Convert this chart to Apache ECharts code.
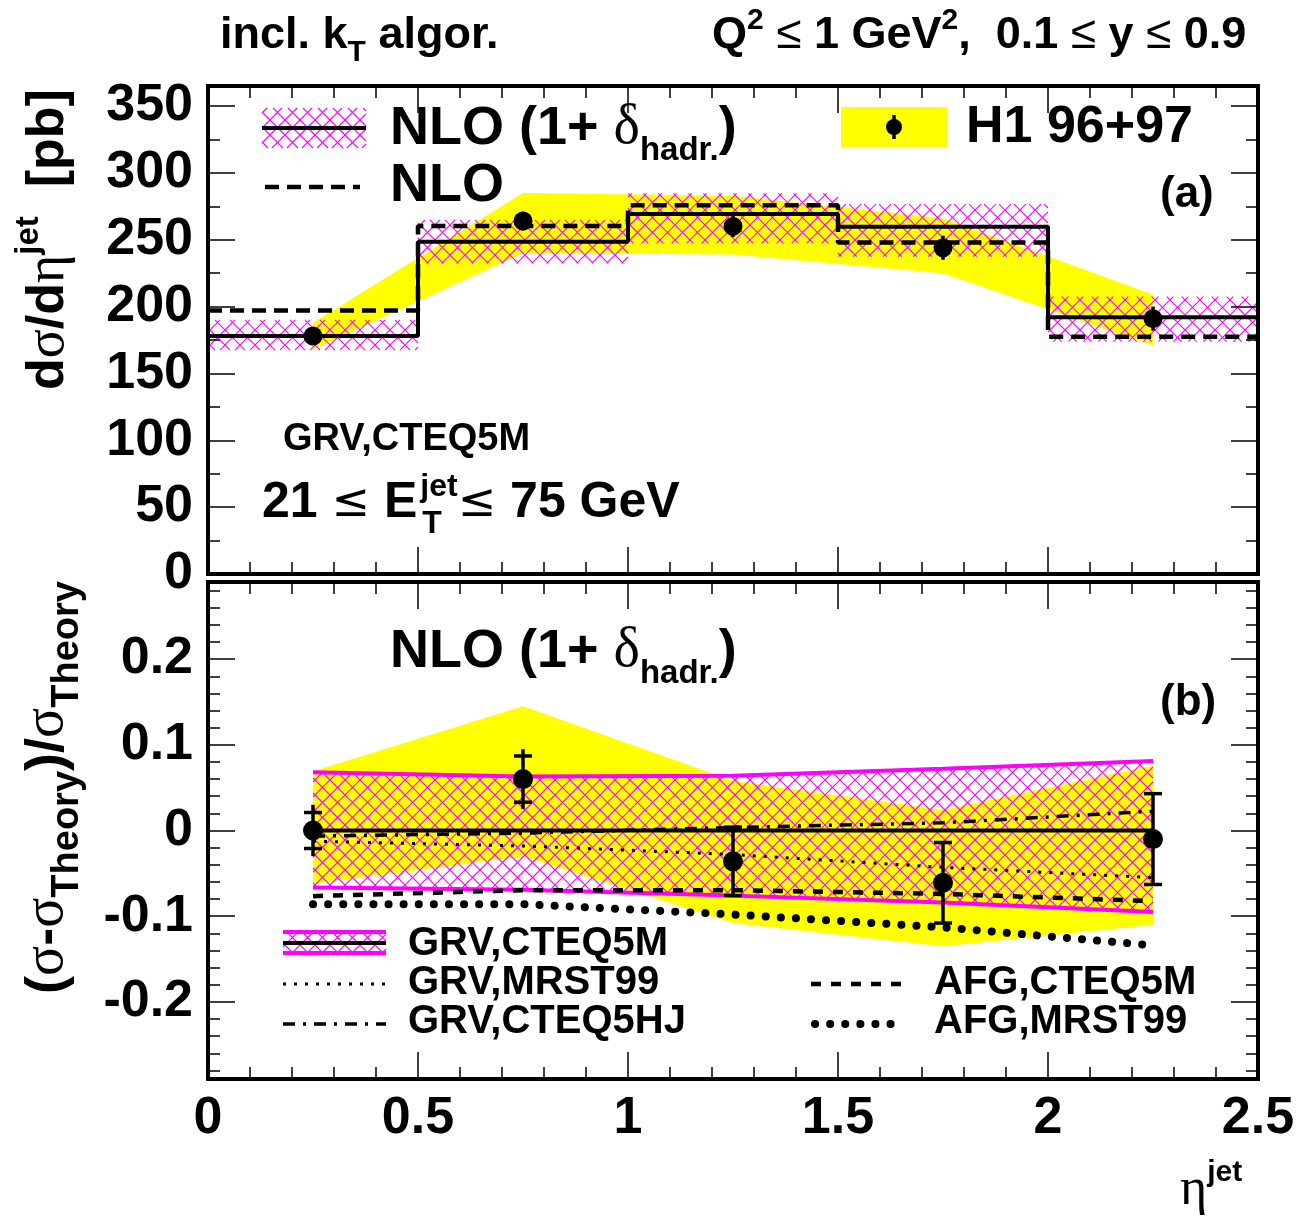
<!DOCTYPE html>
<html><head><meta charset="utf-8">
<script src="https://cdn.jsdelivr.net/npm/echarts@6/dist/echarts.min.js"></script>
<style>html,body{margin:0;padding:0;background:#fff}#c{width:1315px;height:1225px}</style>
</head><body><div id="c"></div>
<script>
// ---------------- data ----------------
const etaCenters = [0.25, 0.75, 1.25, 1.75, 2.25];
const binEdges   = [0, 0.5, 1.0, 1.5, 2.0, 2.5];
// panel (a): d sigma / d eta [pb]
const h1Xsec     = [178, 264, 260, 244, 191];
const h1XsecErr  = [4, 7, 8, 9, 9];
const h1BandHi   = [188, 285, 283, 266, 209];
const h1BandLo   = [168, 240, 239, 225, 171];
const nloHad     = [178, 248.6, 269.3, 259.8, 192];
const nloHadHi   = [190, 264.8, 284.7, 276.7, 207.4];
const nloHadLo   = [167.5, 232.4, 247.3, 237.3, 173.8];
const nloPlain   = [197, 260.3, 275.8, 248, 177.5];
// panel (b): (sigma - sigma_theory)/sigma_theory
const ratioH1    = [0.000, 0.060, -0.036, -0.061, -0.010];
const ratioStat  = [0.021, 0.027, 0.040, 0.047, 0.053];
const ratioTot   = [0.030, 0.035, 0.040, 0.047, 0.053];
const ratioBandHi = [0.069, 0.145, 0.058, 0.024, 0.076];
const ratioBandLo = [-0.062, -0.030, -0.108, -0.135, -0.110];
const hadBandHi  = [0.068, 0.063, 0.064, 0.072, 0.081];
const hadBandLo  = [-0.0665, -0.069, -0.076, -0.084, -0.095];
const grvCteq5m  = [0, 0, 0, 0, 0];
const grvMrst99  = [-0.0125, -0.018, -0.028, -0.043, -0.055];
const grvCteq5hj = [-0.0066, -0.003, 0.0035, 0.009, 0.0225];
const afgCteq5m  = [-0.0766, -0.0696, -0.0696, -0.074, -0.0824];
const afgMrst99  = [-0.086, -0.086, -0.098, -0.113, -0.134];
// ticks
const xMajorTicks = [0, 0.5, 1, 1.5, 2, 2.5];
const xMinorTicks = [0.1,0.2,0.3,0.4,0.6,0.7,0.8,0.9,1.1,1.2,1.3,1.4,1.6,1.7,1.8,1.9,2.1,2.2,2.3,2.4];
const yTopMajorTicks = [0, 50, 100, 150, 200, 250, 300, 350];
const yTopMinorTicks = [25, 75, 125, 175, 225, 275, 325];
const yBotMajorTicks = [-0.2, -0.1, 0, 0.1, 0.2];
const yBotMinorTicks = [-0.28,-0.26,-0.24,-0.22,-0.18,-0.16,-0.14,-0.12,-0.08,-0.06,-0.04,-0.02,
                        0.02,0.04,0.06,0.08,0.12,0.14,0.16,0.18,0.22,0.24,0.26,0.28];

// ---------------- helpers ----------------
const SANS = '"Liberation Sans", Arial, Helvetica, sans-serif';
const SERIF = '"Liberation Serif", "DejaVu Serif", serif';
const DVS = '"DejaVu Sans", sans-serif';
const MAG = '#ff00ff';
const HSP = 15; // hatch period in px
const mctx = document.createElement('canvas').getContext('2d');

// clip segment p0-p1 against convex polygon (Cyrus-Beck)
function clipConvex(p0, p1, poly) {
  const n = poly.length;
  let cx = 0, cy = 0;
  poly.forEach(p => { cx += p[0] / n; cy += p[1] / n; });
  const d = [p1[0] - p0[0], p1[1] - p0[1]];
  let tE = 0, tL = 1;
  for (let i = 0; i < n; i++) {
    const a = poly[i], b = poly[(i + 1) % n];
    const e = [b[0] - a[0], b[1] - a[1]];
    if (Math.abs(e[0]) + Math.abs(e[1]) < 1e-9) continue;
    let nn = [-e[1], e[0]];
    if (nn[0] * (cx - a[0]) + nn[1] * (cy - a[1]) < 0) nn = [-nn[0], -nn[1]];
    const num = nn[0] * (p0[0] - a[0]) + nn[1] * (p0[1] - a[1]);
    const den = nn[0] * d[0] + nn[1] * d[1];
    if (Math.abs(den) < 1e-12) { if (num < 0) return null; continue; }
    const t = -num / den;
    if (den > 0) tE = Math.max(tE, t); else tL = Math.min(tL, t);
    if (tE > tL) return null;
  }
  return [[p0[0] + tE * d[0], p0[1] + tE * d[1]], [p0[0] + tL * d[0], p0[1] + tL * d[1]]];
}
// crossed diagonal hatch lines inside a convex polygon (pixel space)
function hatchEls(poly, z) {
  let minx = Infinity, maxx = -Infinity, miny = Infinity, maxy = -Infinity;
  poly.forEach(p => { minx = Math.min(minx, p[0]); maxx = Math.max(maxx, p[0]); miny = Math.min(miny, p[1]); maxy = Math.max(maxy, p[1]); });
  const els = [];
  const st = { stroke: MAG, lineWidth: 1.1 };
  const add = s => { if (s) els.push({ type: 'line', z: z, shape: { x1: s[0][0], y1: s[0][1], x2: s[1][0], y2: s[1][1] }, style: st }); };
  const y0 = miny - 1, y1 = maxy + 1;
  for (let c = Math.floor((minx - y1) / HSP) * HSP; c <= maxx - y0; c += HSP)
    add(clipConvex([c + y0, y0], [c + y1, y1], poly));
  for (let c = Math.floor((minx + y0) / HSP) * HSP; c <= maxx + y1; c += HSP)
    add(clipConvex([c - y0, y0], [c - y1, y1], poly));
  return els;
}

function run(x, y, pieces, extra) {
  let cx = 0, pend = 0; const ch = [];
  for (const p of pieces) {
    const s = p.s;
    const font = (p.w || 'bold') + ' ' + s + 'px ' + (p.f || SANS);
    mctx.font = font;
    const w = mctx.measureText(p.t).width;
    ch.push({ type: 'text', z: 100, x: cx + (p.dx || 0), y: (p.dy || 0) - 0.345 * s,
      style: { text: p.t, font: font, fill: '#000', textAlign: 'left', textVerticalAlign: 'middle' } });
    if (p.keep) { pend = Math.max(pend, w + (p.dx || 0)); }
    else { cx += Math.max(w + (p.dx || 0), pend); pend = 0; }
  }
  return Object.assign({ type: 'group', x: x, y: y, z: 100, children: ch }, extra || {});
}

function axisPair(dim, grid, pos, min, max, majors, minors, showLabels) {
  const base = {
    type: 'value', gridIndex: grid, position: pos, min: min, max: max, z: 10,
    splitLine: { show: false }, minorTick: { show: false }, minorSplitLine: { show: false }
  };
  const major = Object.assign({}, base, {
    axisLine: { show: true, onZero: false, lineStyle: { color: '#000', width: 4, cap: 'square' } },
    axisTick: { show: true, inside: true, length: 27, customValues: majors, lineStyle: { color: '#000', width: 1.5 } },
    axisLabel: { show: showLabels, customValues: majors, color: '#000', fontFamily: SANS, fontWeight: 'bold',
      fontSize: 52, margin: dim === 'x' ? 14 : 15, formatter: v => String(v) }
  });
  const minor = Object.assign({}, base, {
    axisLine: { show: false, onZero: false },
    axisTick: { show: true, inside: true, length: 12, customValues: minors, lineStyle: { color: '#000', width: 1.5 } },
    axisLabel: { show: false }
  });
  return [major, minor];
}

function polyRender(xs, hi, lo, fill) {
  return function (params, api) {
    if (params.dataIndex > 0) return;
    const pts = [];
    for (let i = 0; i < xs.length; i++) pts.push(api.coord([xs[i], hi[i]]));
    for (let i = xs.length - 1; i >= 0; i--) pts.push(api.coord([xs[i], lo[i]]));
    return { type: 'polygon', shape: { points: pts }, style: { fill: fill } };
  };
}
function stepData(v) { return binEdges.map((e, i) => [e, v[Math.min(i, v.length - 1)]]); }
function zip(xs, ys) { return xs.map((x, i) => [x, ys[i]]); }

function errRender(tickHalf) {
  return function (params, api) {
    const x = api.value(0), y = api.value(1), st = api.value(2), tt = api.value(3);
    const top = api.coord([x, y + tt]), bot = api.coord([x, y - tt]);
    const sTop = api.coord([x, y + st]), sBot = api.coord([x, y - st]);
    const ls = { stroke: '#000', lineWidth: 3.5 };
    const ch = [{ type: 'line', shape: { x1: top[0], y1: top[1], x2: bot[0], y2: bot[1] }, style: ls }];
    if (tickHalf > 0) {
      ch.push({ type: 'line', shape: { x1: sTop[0] - tickHalf, y1: sTop[1], x2: sTop[0] + tickHalf, y2: sTop[1] }, style: ls });
      ch.push({ type: 'line', shape: { x1: sBot[0] - tickHalf, y1: sBot[1], x2: sBot[0] + tickHalf, y2: sBot[1] }, style: ls });
    }
    return { type: 'group', children: ch };
  };
}

// ---------------- axes ----------------
const xAxes = [].concat(
  axisPair('x', 0, 'bottom', 0, 2.5, xMajorTicks, xMinorTicks, false),
  axisPair('x', 0, 'top', 0, 2.5, xMajorTicks, xMinorTicks, false),
  axisPair('x', 1, 'bottom', 0, 2.5, xMajorTicks, xMinorTicks, true),
  axisPair('x', 1, 'top', 0, 2.5, xMajorTicks, xMinorTicks, false)
);
const yAxes = [].concat(
  axisPair('y', 0, 'left', 0, 365, yTopMajorTicks, yTopMinorTicks, true),
  axisPair('y', 0, 'right', 0, 365, yTopMajorTicks, yTopMinorTicks, false),
  axisPair('y', 1, 'left', -0.29, 0.29, yBotMajorTicks, yBotMinorTicks, true),
  axisPair('y', 1, 'right', -0.29, 0.29, yBotMajorTicks, yBotMinorTicks, false)
);

const T = { xAxisIndex: 0, yAxisIndex: 0 };
const B = { xAxisIndex: 4, yAxisIndex: 4 };
const lineBase = { type: 'line', symbol: 'none', silent: true, z: 3 };
const pointStyle = { color: '#000', opacity: 1 };

const series = [
  // ---- panel (a)
  Object.assign({ type: 'custom', z: 1, silent: true, data: [[etaCenters[0], h1BandLo[0]]],
    renderItem: polyRender(etaCenters, h1BandHi, h1BandLo, '#ffff00') }, T),
  Object.assign({ type: 'custom', z: 2, silent: true,
    data: nloHad.map((v, i) => [binEdges[i], binEdges[i + 1], nloHadLo[i], nloHadHi[i]]),
    encode: { x: [0, 1], y: [2, 3] },
    renderItem: function (params, api) {
      const a = api.coord([api.value(0), api.value(3)]);
      const b = api.coord([api.value(1), api.value(2)]);
      const poly = [[a[0], a[1]], [b[0], a[1]], [b[0], b[1]], [a[0], b[1]]];
      return { type: 'group', children: hatchEls(poly) };
    } }, T),
  Object.assign({}, lineBase, T, { step: 'end', data: stepData(nloPlain), lineStyle: { color: '#000', width: 4.5, type: [14, 8] } }),
  Object.assign({}, lineBase, T, { step: 'end', data: stepData(nloHad), lineStyle: { color: '#000', width: 4 } }),
  Object.assign({ type: 'custom', z: 4, silent: true, data: etaCenters.map((x, i) => [x, h1Xsec[i], h1XsecErr[i], h1XsecErr[i]]),
    renderItem: errRender(0) }, T),
  Object.assign({ type: 'scatter', z: 5, silent: true, symbol: 'circle', symbolSize: 19, itemStyle: pointStyle,
    data: zip(etaCenters, h1Xsec) }, T),
  // ---- panel (b)
  Object.assign({ type: 'custom', z: 1, silent: true, data: [[etaCenters[0], ratioBandLo[0]]],
    renderItem: polyRender(etaCenters, ratioBandHi, ratioBandLo, '#ffff00') }, B),
  Object.assign({ type: 'custom', z: 2, silent: true,
    data: etaCenters.slice(0, -1).map((x, i) => [x, hadBandLo[i], etaCenters[i + 1], hadBandHi[i + 1]]),
    encode: { x: [0, 2], y: [1, 3] },
    renderItem: function (params, api) {
      const i = params.dataIndex;
      const poly = [api.coord([etaCenters[i], hadBandHi[i]]), api.coord([etaCenters[i + 1], hadBandHi[i + 1]]),
                    api.coord([etaCenters[i + 1], hadBandLo[i + 1]]), api.coord([etaCenters[i], hadBandLo[i]])];
      return { type: 'group', children: hatchEls(poly) };
    } }, B),
  Object.assign({}, lineBase, B, { data: zip(etaCenters, hadBandHi), lineStyle: { color: MAG, width: 4 } }),
  Object.assign({}, lineBase, B, { data: zip(etaCenters, hadBandLo), lineStyle: { color: MAG, width: 4 } }),
  Object.assign({}, lineBase, B, { data: zip(etaCenters, grvMrst99), lineStyle: { color: '#000', width: 3, type: [3, 8] } }),
  Object.assign({}, lineBase, B, { data: zip(etaCenters, grvCteq5hj), lineStyle: { color: '#000', width: 3.5, type: [12, 8, 3, 8] } }),
  Object.assign({}, lineBase, B, { data: zip(etaCenters, afgCteq5m), lineStyle: { color: '#000', width: 4.5, type: [10, 10] } }),
  Object.assign({}, lineBase, B, { data: zip(etaCenters, afgMrst99), lineStyle: { color: '#000', width: 8, type: [0.1, 15], cap: 'round' } }),
  Object.assign({}, lineBase, B, { data: zip(etaCenters, grvCteq5m), lineStyle: { color: '#000', width: 4 } }),
  Object.assign({ type: 'custom', z: 4, silent: true, data: etaCenters.map((x, i) => [x, ratioH1[i], ratioStat[i], ratioTot[i]]),
    renderItem: errRender(9) }, B),
  Object.assign({ type: 'scatter', z: 5, silent: true, symbol: 'circle', symbolSize: 20, itemStyle: pointStyle,
    data: zip(etaCenters, ratioH1) }, B)
];

// ---------------- texts & legend samples ----------------
const G = [];
const LE = { f: SANS, w: 'normal' };
// header
G.push(run(220, 51, [{ t: 'incl. k', s: 45 }, { t: 'T', s: 30, dy: 12 }, { t: ' algor.', s: 45 }]));
G.push(run(712, 51, [{ t: 'Q', s: 45 }, { t: '2', s: 30, dy: -20 }, { t: ' ', s: 45 }, Object.assign({ t: '\u2264', s: 46 }, LE),
  { t: ' 1 GeV', s: 45 }, { t: '2', s: 30, dy: -20 }, { t: ',  0.1 ', s: 45 }, Object.assign({ t: '\u2264', s: 46 }, LE),
  { t: ' y ', s: 45 }, Object.assign({ t: '\u2264', s: 46 }, LE), { t: ' 0.9', s: 45 }]));
// y titles
G.push(run(67, 390, [{ t: 'd', s: 52 }, { t: '\u03c3', s: 54, f: SERIF, w: 'normal' }, { t: '/d', s: 52 },
  { t: '\u03b7', s: 54, f: SERIF, w: 'normal' }, { t: 'jet', s: 33, dy: -27 }, { t: '  [pb]', s: 52 }], { rotation: Math.PI / 2 }));
G.push(run(67, 994, [{ t: '(', s: 54 }, { t: '\u03c3', s: 56, f: SERIF, w: 'normal' }, { t: '-', s: 54 },
  { t: '\u03c3', s: 56, f: SERIF, w: 'normal' }, { t: 'Theory', s: 38, dy: 14 }, { t: ')/', s: 54 },
  { t: '\u03c3', s: 56, f: SERIF, w: 'normal' }, { t: 'Theory', s: 38, dy: 14 }], { rotation: Math.PI / 2 }));
// x title
G.push(run(1180, 1208, [{ t: '\u03b7', s: 52, f: SERIF, w: 'normal' }, { t: 'jet', s: 30, dy: -25 }]));

// panel (a) legend
G.push({ type: 'group', z: 100, children: hatchEls([[262, 108], [366, 108], [366, 148], [262, 148]], 100) });
G.push({ type: 'line', z: 101, shape: { x1: 262, y1: 128, x2: 366, y2: 128 }, style: { stroke: '#000', lineWidth: 4 } });
G.push(run(390, 148, [{ t: 'NLO (1+ ', s: 54 }, { t: '\u03b4', s: 56, f: SERIF, w: 'normal' }, { t: 'hadr.', s: 33, dy: 14 }, { t: ')', s: 54 }]));
G.push({ type: 'line', z: 100, shape: { x1: 265, y1: 187, x2: 360, y2: 187 }, style: { stroke: '#000', lineWidth: 4.5, lineDash: [14, 8] } });
G.push(run(390, 205, [{ t: 'NLO', s: 54 }]));
G.push({ type: 'rect', z: 100, shape: { x: 841, y: 107, width: 106, height: 40 }, style: { fill: '#ffff00' } });
G.push({ type: 'line', z: 101, shape: { x1: 894, y1: 115, x2: 894, y2: 139 }, style: { stroke: '#000', lineWidth: 3.5 } });
G.push({ type: 'circle', z: 102, shape: { cx: 894, cy: 127, r: 8 }, style: { fill: '#000' } });
G.push(run(966, 146, [{ t: 'H1 96+97', s: 52 }]));
G.push(run(1160, 210, [{ t: '(a)', s: 44 }]));
G.push(run(283, 453, [{ t: 'GRV,CTEQ5M', s: 38 }]));
G.push(run(262, 520, [{ t: '21 ', s: 50 }, { t: '\u2264', s: 46, f: DVS, w: 'normal' }, { t: ' E', s: 50 },
  { t: 'jet', s: 32, dy: -22, dx: 3, keep: true }, { t: 'T', s: 32, dy: 15, dx: 5 }, { t: '\u2264', s: 46, f: DVS, w: 'normal' },
  { t: ' 75 GeV', s: 50 }]));

// panel (b) texts
G.push(run(390, 671, [{ t: 'NLO (1+ ', s: 54 }, { t: '\u03b4', s: 56, f: SERIF, w: 'normal' }, { t: 'hadr.', s: 33, dy: 14 }, { t: ')', s: 54 }]));
G.push(run(1160, 718, [{ t: '(b)', s: 44 }]));
// panel (b) legend samples
G.push({ type: 'group', z: 100, children: hatchEls([[283, 932], [386, 932], [386, 953], [283, 953]], 100) });
G.push({ type: 'line', z: 101, shape: { x1: 283, y1: 932, x2: 386, y2: 932 }, style: { stroke: MAG, lineWidth: 4 } });
G.push({ type: 'line', z: 101, shape: { x1: 283, y1: 953, x2: 386, y2: 953 }, style: { stroke: MAG, lineWidth: 4 } });
G.push({ type: 'line', z: 101, shape: { x1: 283, y1: 943, x2: 386, y2: 943 }, style: { stroke: '#000', lineWidth: 4 } });
G.push({ type: 'line', z: 100, shape: { x1: 283, y1: 984, x2: 386, y2: 984 }, style: { stroke: '#000', lineWidth: 3, lineDash: [3, 8] } });
G.push({ type: 'line', z: 100, shape: { x1: 283, y1: 1024, x2: 386, y2: 1024 }, style: { stroke: '#000', lineWidth: 3.5, lineDash: [12, 8, 3, 8] } });
G.push({ type: 'line', z: 100, shape: { x1: 811, y1: 984, x2: 905, y2: 984 }, style: { stroke: '#000', lineWidth: 4.5, lineDash: [10, 10] } });
G.push({ type: 'line', z: 100, shape: { x1: 815, y1: 1024, x2: 905, y2: 1024 }, style: { stroke: '#000', lineWidth: 8, lineDash: [0.1, 15], lineCap: 'round' } });
G.push(run(408, 958, [{ t: 'GRV,CTEQ5M', s: 40 }]));
G.push(run(408, 997, [{ t: 'GRV,MRST99', s: 40 }]));
G.push(run(408, 1036, [{ t: 'GRV,CTEQ5HJ', s: 40 }]));
G.push(run(934, 997, [{ t: 'AFG,CTEQ5M', s: 40 }]));
G.push(run(934, 1036, [{ t: 'AFG,MRST99', s: 40 }]));

const option = {
  animation: false,
  backgroundColor: '#ffffff',
  grid: [
    { left: 208, top: 86, width: 1050, height: 488, show: false },
    { left: 208, top: 582, width: 1050, height: 497, show: false }
  ],
  xAxis: xAxes,
  yAxis: yAxes,
  series: series,
  graphic: G
};
const chart = echarts.init(document.getElementById('c'), null, { renderer: 'canvas' });
chart.setOption(option);
</script></body></html>
